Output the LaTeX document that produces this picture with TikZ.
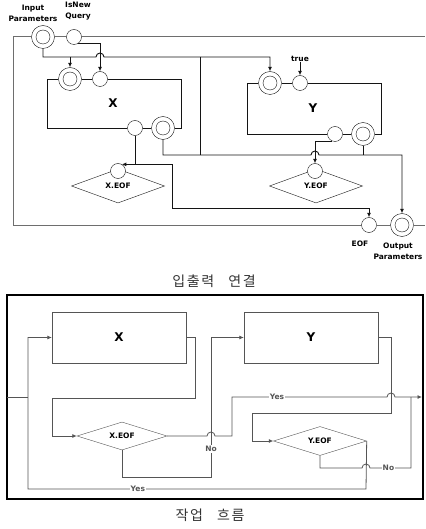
\documentclass[tikz,border=0pt]{standalone}
\usepackage{fontspec}
\setsansfont{DejaVu Sans}
\newfontfamily\hangul[LetterSpace=12]{Noto Sans CJK KR}
\usetikzlibrary{shapes.geometric,arrows.meta}

\definecolor{wiregray}{HTML}{141414}
\definecolor{framegray}{HTML}{6E6E6E}
\definecolor{flowgray}{HTML}{555555}
\definecolor{capgray}{HTML}{333333}

\begin{document}
\begin{tikzpicture}[x=1pt,y=-1pt,
  dblcirc/.style={circle,draw=wiregray,fill=white,minimum size=23pt,inner sep=0pt,
    path picture={\draw[wiregray] (path picture bounding box.center) circle[radius=7pt];}},
  smlcirc/.style={circle,draw=wiregray,fill=white,minimum size=15pt,inner sep=0pt},
  portlbl/.style={font=\sffamily\bfseries\fontsize{7.5}{11}\selectfont,align=center,inner sep=0pt},
  boxlbl/.style={font=\sffamily\bfseries\fontsize{12}{14}\selectfont,inner sep=0pt},
  decision/.style={diamond,aspect=3,draw=wiregray,fill=white,inner sep=0pt,
    font=\sffamily\bfseries\fontsize{7.5}{9}\selectfont},
  task/.style={rectangle,draw=flowgray,fill=white,minimum width=134pt,minimum height=51pt,
    font=\sffamily\bfseries\fontsize{12}{14}\selectfont},
  flowlbl/.style={fill=white,inner sep=1pt,text=flowgray,font=\sffamily\bfseries\fontsize{7.5}{9}\selectfont},
  caption/.style={font=\hangul\fontsize{14}{16}\selectfont,text=capgray},
  wire/.style={draw=wiregray,line width=0.9pt},
  frame/.style={draw=framegray,line width=1pt},
  flow/.style={draw=flowgray,line width=0.8pt},
  arr/.style={-{Latex[length=4.5pt,width=4pt]}}]

\useasboundingbox (0,0) rectangle (425,529);

% Input and output ports
\node[dblcirc] (inpar) at (43,37) {};
\node[smlcirc] (isnew) at (74,37) {};
\node[portlbl] (inparlbl) at (33,13.5) {Input\\Parameters};
\node[portlbl] (isnewlbl) at (78,11.5) {IsNew\\Query};
\node[smlcirc] (eof) at (369,225) {};
\node[dblcirc] (outpar) at (402,225) {};
\node[portlbl] (eoflbl) at (360,244) {EOF};
\node[portlbl] (outparlbl) at (398,251) {Output\\Parameters};

% X
\node[dblcirc] (xin) at (70,79) {};
\node[smlcirc] (xnew) at (100,79) {};
\node[smlcirc] (xflag) at (135,128) {};
\node[dblcirc] (xout) at (163,128) {};
\node[boxlbl] (xlbl) at (113,103) {X};

% Y
\node[dblcirc] (yin) at (270,83) {};
\node[smlcirc] (ytrue) at (300,83) {};
\node[smlcirc] (yflag) at (335,134) {};
\node[dblcirc] (yout) at (363,134) {};
\node[boxlbl] (ylbl) at (313,108) {Y};
\node[portlbl] (truelbl) at (300,59) {true};

% EOF tests
\node[decision,minimum width=93pt,minimum height=34pt] (xeof) at (118,186) {X.EOF};
\node[smlcirc] (xeofin) at (118,171) {};
\node[decision,minimum width=93pt,minimum height=34pt] (yeof) at (316,186) {Y.EOF};
\node[smlcirc] (yeofin) at (315,171) {};

% outer frame
\draw[frame] (inpar.west) -- (13,37) -- (13,225) -- (eof.west);
\draw[frame] (inpar.east) -- (isnew.west);
\draw[frame] (isnew.east) -- (425,37);
\draw[frame] (eof.east) -- (outpar.west);
\draw[frame] (outpar.east) -- (425,225);

% box X
\draw[wire] (xin.west) -- (47,79) -- (47,128) -- (xflag.west);
\draw[wire] (xin.east) -- (xnew.west);
\draw[wire] (xnew.east) -- (181,79) -- (181,128) -- (xout.east);
\draw[wire] (xflag.east) -- (xout.west);

% box Y
\draw[wire] (yin.west) -- (247,83) -- (247,134) -- (yflag.west);
\draw[wire] (yin.east) -- (ytrue.west);
\draw[wire] (ytrue.east) -- (381,83) -- (381,134) -- (yout.east);
\draw[wire] (yflag.east) -- (yout.west);

% connections
\draw[wire,arr] (inpar.south) |- (96,57) arc[start angle=180,end angle=0,radius=4pt] -| (yin.north);
\draw[wire,arr] (70,57) -- (xin.north);
\draw[wire] (200,57) -- (200,155);
\draw[wire,arr] (isnew.-60) -| (xnew.north);
\draw[wire,arr] (truelbl.south) -- (ytrue.north);
\draw[wire,arr] (xout.south) |- (311,155) arc[start angle=180,end angle=0,radius=4pt] -| (outpar.north);
\draw[wire] (yout.south) -- (363,155);
\draw[wire,arr] (xflag.south) |- (xeofin.60);
\draw[wire,arr] (135,164.5) -| (172,208) -| (eof.north);
\draw[wire,arr] (yflag.-115) -| (yeofin.north);

\node[caption] (cap1) at (214,281) {입출력\hspace{14pt}연결};

% Work flow
\draw[line width=1.1pt] (7,295) rectangle (423,499);
\node[task] (xtask) at (119,337.5) {X};
\node[task] (ytask) at (311,337.5) {Y};
\node[decision,draw=flowgray,minimum width=90pt,minimum height=28pt] (xdec) at (122,436) {X.EOF};
\node[decision,draw=flowgray,minimum width=93pt,minimum height=29pt] (ydec) at (320,441) {Y.EOF};

\draw[flow] (7,397) -- (28,397);
\draw[flow,arr] (ydec.east) -- (366,489) -- node[flowlbl,pos=0.675] {Yes} (28,489) -- (28,337.5) -- (xtask.west);
\draw[flow,arr] (xtask.east) -- (195,337.5) -- (195,398) -- (52,398) -- (52,436) -- (xdec.west);
\draw[flow,arr] (xdec.south) |- (211,477) -- node[flowlbl,pos=0.2] {No} (211,337.5) -- (ytask.west);
\draw[flow,arr] (xdec.east) -- (207,436) arc[start angle=180,end angle=0,radius=4pt] -- (232,436) -- (232,397)
  -- node[flowlbl,pos=0.29] {Yes} (387,397) arc[start angle=180,end angle=0,radius=4pt] -- (422,397);
\draw[flow,arr] (ytask.east) -- (391,337.5) -- (391,413) -- (252,413) -- (252,441) -- (ydec.west);
\draw[flow] (ydec.south) -- (320,468) -- (362,468) arc[start angle=180,end angle=0,radius=4pt]
  -- node[flowlbl,pos=0.45] {No} (411,468) -- (411,397);

\node[caption] (cap2) at (210,515) {작업\hspace{14pt}흐름};

\end{tikzpicture}
\end{document}
